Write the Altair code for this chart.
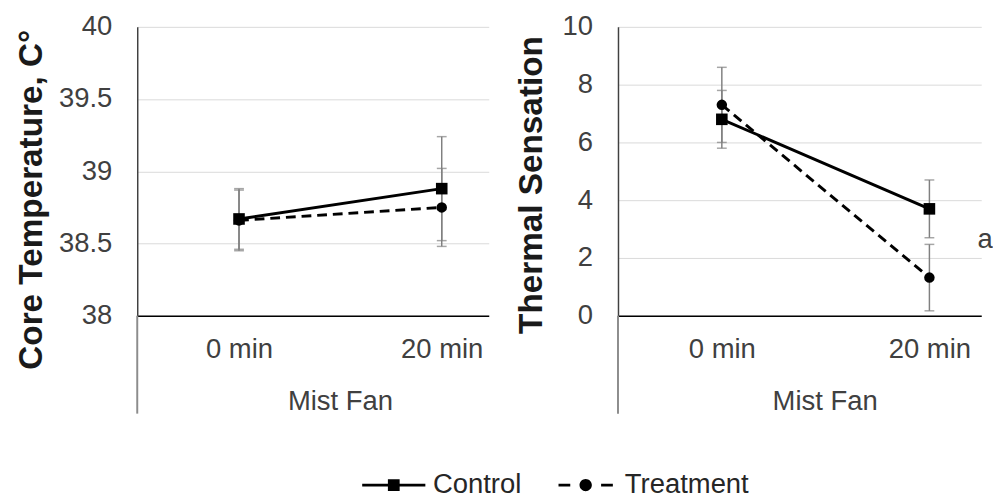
import altair as alt
import pandas as pd

# ---------------- data ----------------
times = ["0 min", "20 min"]
series = ["Control", "Treatment"]

core_control = [38.67, 38.88]
core_control_err = [0.21, 0.36]
core_treat = [38.66, 38.75]
core_treat_err = [0.21, 0.27]
core_ticks = [38, 38.5, 39, 39.5, 40]

ts_control = [6.8, 3.7]
ts_control_err = [1.0, 1.0]
ts_treat = [7.3, 1.32]
ts_treat_err = [1.3, 1.15]
ts_ticks = [0, 2, 4, 6, 8, 10]

sig_label = ["a"]
sig_time = ["20 min"]
sig_value = [2.6]

FONT = "Liberation Sans"
LABEL_COLOR = "#404040"
LS = 28  # regular text size


def build_df(ctrl, ctrl_err, trt, trt_err):
    rows = []
    for name, vals, errs in (("Control", ctrl, ctrl_err), ("Treatment", trt, trt_err)):
        for t, v, e in zip(times, vals, errs):
            rows.append({"time": t, "series": name, "value": v, "lo": v - e, "hi": v + e})
    return pd.DataFrame(rows)


core_df = build_df(core_control, core_control_err, core_treat, core_treat_err)
ts_df = build_df(ts_control, ts_control_err, ts_treat, ts_treat_err)

# custom legend glyphs (line + marker), drawn as filled shapes
path_ctrl = "M-2.15,-0.1H2.15V0.1H-2.15Z M-0.4,-0.4H0.4V0.4H-0.4Z"
path_treat = ("M-1.85,-0.1H-1.05V0.1H-1.85Z M1.05,-0.1H1.85V0.1H1.05Z "
              "M0.42,0A0.42,0.42,0,1,1,-0.42,0A0.42,0.42,0,1,1,0.42,0Z")


def panel(df, domain, ticks, ytitle, width, height, pad, align, title_x, ext, ytitle_pad, ytitle_y,
          extra=None, legend_layer=None):
    xs = alt.Scale(type="point", domain=times, padding=pad, align=align)
    ys = alt.Scale(domain=domain, nice=False, zero=False)
    xaxis = alt.Axis(title="Mist Fan", labelAngle=0, labelAlign="center", ticks=False, grid=False,
                     domainColor="black", domainWidth=1.5,
                     labelFontSize=LS, labelFont=FONT, labelColor=LABEL_COLOR, labelPadding=35,
                     titleFontSize=LS, titleFont=FONT, titleColor=LABEL_COLOR, titleFontWeight="normal",
                     titlePadding=25, titleX=title_x, titleAlign="center")
    yaxis = alt.Axis(title=ytitle, values=ticks, format="~f", ticks=False,
                     grid=True, gridColor="#d9d9d9", gridWidth=1,
                     domainColor="#404040", domainWidth=1.5,
                     labelFontSize=LS, labelFont=FONT, labelColor=LABEL_COLOR, labelPadding=26,
                     titleFontSize=34, titleFont=FONT, titleColor="#1a1a1a", titleFontWeight="bold",
                     titlePadding=ytitle_pad, titleY=ytitle_y)
    base = alt.Chart(df)
    x = alt.X("time:N", scale=xs, axis=xaxis, sort=times)
    y = alt.Y("value:Q", scale=ys, axis=yaxis)
    err = base.mark_rule(color="#808080", strokeWidth=1.5).encode(
        x=alt.X("time:N", scale=xs, sort=times), y=alt.Y("lo:Q", scale=ys), y2="hi:Q")
    cap_lo = base.mark_tick(color="#808080", thickness=1.5, size=10, orient="horizontal").encode(
        x=alt.X("time:N", scale=xs, sort=times), y=alt.Y("lo:Q", scale=ys))
    cap_hi = base.mark_tick(color="#808080", thickness=1.5, size=10, orient="horizontal").encode(
        x=alt.X("time:N", scale=xs, sort=times), y=alt.Y("hi:Q", scale=ys))
    line_c = base.transform_filter(alt.datum.series == "Control").mark_line(
        color="black", strokeWidth=3).encode(x=x, y=y)
    line_t = base.transform_filter(alt.datum.series == "Treatment").mark_line(
        color="black", strokeWidth=3, strokeDash=[10, 6]).encode(x=x, y=y)
    pt_c = base.transform_filter(alt.datum.series == "Control").mark_point(
        shape="square", filled=True, color="black", size=140, opacity=1).encode(x=x, y=y)
    pt_t = base.transform_filter(alt.datum.series == "Treatment").mark_point(
        shape="circle", filled=True, color="black", size=115, opacity=1).encode(x=x, y=y)
    extension = alt.Chart(pd.DataFrame({"k": [0]})).mark_rule(color="#8c8c8c", strokeWidth=2).encode(
        x=alt.value(0), y=alt.value(height), y2=alt.value(height + ext))
    layers = [extension, err, cap_lo, cap_hi, line_c, line_t, pt_c, pt_t]
    if extra is not None:
        layers.append(extra)
    if legend_layer is not None:
        layers.append(legend_layer)
    return alt.layer(*layers).properties(width=width, height=height)


legend_df = pd.DataFrame({"series": series})
legend_layer = alt.Chart(legend_df).transform_filter("false").mark_point(
    filled=True, fill="black", opacity=1).encode(
    shape=alt.Shape("series:N", scale=alt.Scale(domain=series, range=[path_ctrl, path_treat]),
                    legend=alt.Legend(orient="none", direction="horizontal", legendX=247, legendY=453,
                                      title=None, symbolSize=900, symbolFillColor="black",
                                      symbolStrokeWidth=0, symbolOpacity=1,
                                      labelFontSize=LS, labelFont=FONT, labelColor="#262626",
                                      labelOffset=25, columnPadding=37, padding=0))
)

sig_df = pd.DataFrame({"label": sig_label, "time": sig_time, "value": sig_value})

left = panel(core_df, [38, 40], core_ticks, "Core Temperature, C°", 359, 295,
             0.367, 0.684, 207, 100, 10, 176, legend_layer=legend_layer)

ts_xs = alt.Scale(type="point", domain=times, padding=0.375, align=0.667)
sig = alt.Chart(sig_df).mark_text(fontSize=LS, font=FONT, color=LABEL_COLOR, dx=57).encode(
    x=alt.X("time:N", scale=ts_xs, sort=times), y=alt.Y("value:Q", scale=alt.Scale(domain=[0, 10], nice=False)),
    text="label:N")

right = panel(ts_df, [0, 10], ts_ticks, "Thermal Sensation", 371, 295,
              0.375, 0.667, 211, 100, 14, 161, extra=sig)

chart = alt.hconcat(left, right, spacing=26).properties(
    padding={"left": 7, "top": 0, "right": 0, "bottom": 0},
    background="white",
).configure_view(stroke=None)

chart.save("out.html", embed_options={"renderer": "svg", "actions": False})
